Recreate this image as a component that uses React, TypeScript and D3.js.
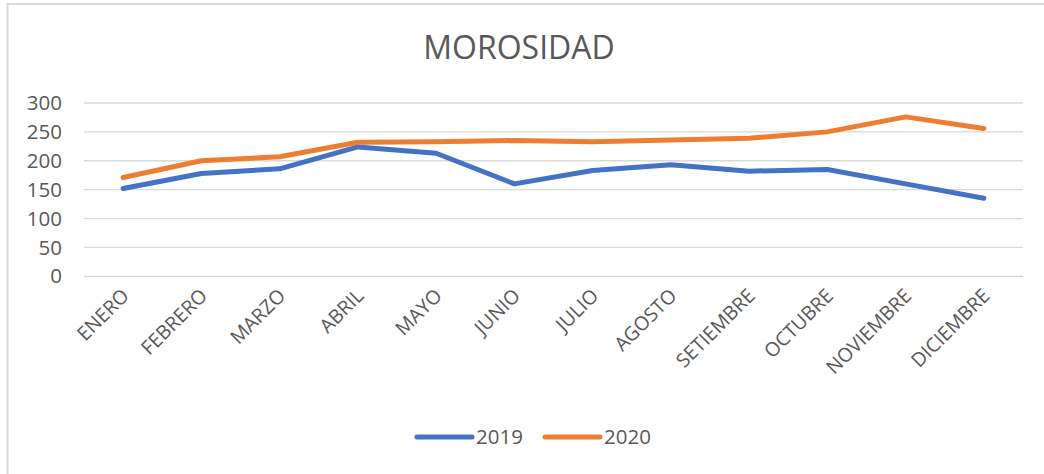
import React, { useEffect, useRef } from "react";
import * as d3 from "d3";

const months = ["ENERO","FEBRERO","MARZO","ABRIL","MAYO","JUNIO","JULIO","AGOSTO","SETIEMBRE","OCTUBRE","NOVIEMBRE","DICIEMBRE"];
const values2019 = [152, 178, 186, 224, 213, 160, 183, 193, 182, 185, 160, 135];
const values2020 = [171, 200, 207, 232, 233, 235, 233, 236, 239, 250, 276, 256];
const yTicks = [0, 50, 100, 150, 200, 250, 300];
const seriesNames = ["2019", "2020"];
const colors = ["#4472C4", "#ED7D31"];

const W = 1044, H = 474;
const FONT = "'Open Sans', 'Noto Sans', sans-serif";
const TEXT = "#595959";

export default function App() {
  const ref = useRef<SVGSVGElement>(null);
  useEffect(() => {
    const svg = d3.select(ref.current);
    svg.selectAll("*").remove();
    svg.append("rect").attr("width", W).attr("height", H).attr("fill", "#fff");
    // frame
    svg.append("line").attr("x1", 7).attr("x2", W).attr("y1", 4).attr("y2", 4).attr("stroke", "#d9d9d9").attr("stroke-width", 2);
    svg.append("line").attr("x1", 7.5).attr("x2", 7.5).attr("y1", 3).attr("y2", H).attr("stroke", "#d9d9d9").attr("stroke-width", 2);

    const x = d3.scaleBand().domain(months).range([84, 1023]);
    const y = d3.scaleLinear().domain([0, 300]).range([276.3, 103]);

    // grid
    svg.append("g").selectAll("line").data(yTicks).join("line")
      .attr("x1", 84).attr("x2", 1023)
      .attr("y1", d => y(d)).attr("y2", d => y(d))
      .attr("stroke", "#d9d9d9").attr("stroke-width", 1.3);

    svg.append("g").selectAll("text").data(yTicks).join("text")
      .attr("x", 62).attr("y", d => y(d)).attr("dy", "0.35em")
      .attr("text-anchor", "end").attr("font-family", FONT).attr("font-size", 20.5)
      .attr("fill", TEXT).text(d => String(d));

    // x labels
    svg.append("g").selectAll("text").data(months).join("text")
      .attr("transform", d => `translate(${(x(d) as number) + x.bandwidth() / 2 + 7},${297}) rotate(-45)`)
      .attr("text-anchor", "end").attr("font-family", FONT).attr("font-size", 19.5)
      .attr("fill", TEXT).text(d => d);

    const line = d3.line<number>()
      .x((_, i) => (x(months[i]) as number) + x.bandwidth() / 2)
      .y(d => y(d));

    [values2019, values2020].forEach((vals, i) => {
      svg.append("path").datum(vals).attr("d", line)
        .attr("fill", "none").attr("stroke", colors[i]).attr("stroke-width", 5)
        .attr("stroke-linejoin", "round").attr("stroke-linecap", "round");
    });

    // title
    svg.append("text").attr("x", 519).attr("y", 59).attr("text-anchor", "middle")
      .attr("font-family", FONT).attr("font-size", 32).attr("fill", TEXT).text("MOROSIDAD");

    // legend
    const lg = svg.append("g");
    const legendX = [417, 545];
    seriesNames.forEach((n, i) => {
      lg.append("line").attr("x1", legendX[i]).attr("x2", legendX[i] + 55)
        .attr("y1", 437).attr("y2", 437).attr("stroke", colors[i]).attr("stroke-width", 5).attr("stroke-linecap", "round");
      lg.append("text").attr("x", legendX[i] + 59).attr("y", 437).attr("dy", "0.35em")
        .attr("font-family", FONT).attr("font-size", 20.5).attr("fill", TEXT).text(n);
    });
  }, []);
  return (
    <svg ref={ref} width={W} height={H} style={{ position: "absolute", left: 0, top: 0 }} />
  );
}
